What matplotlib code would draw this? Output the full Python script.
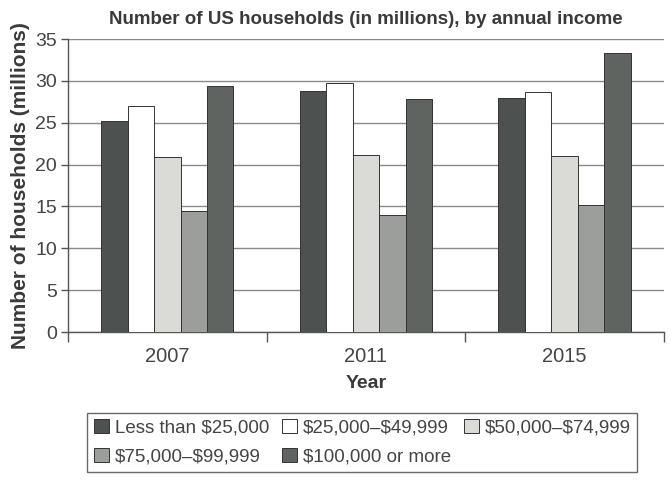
import numpy as np
import matplotlib
matplotlib.use('Agg')
import matplotlib.pyplot as plt

plt.rcParams['font.family'] = ['Liberation Sans', 'DejaVu Sans']
plt.rcParams['text.parse_math'] = False

years = ['2007', '2011', '2015']
series = ['Less than $25,000', '$25,000\u2013$49,999', '$50,000\u2013$74,999',
          '$75,000\u2013$99,999', '$100,000 or more']
less_25k = [25.2, 28.8, 27.9]
from_25k = [27.0, 29.7, 28.7]
from_50k = [20.9, 21.2, 21.0]
from_75k = [14.5, 14.0, 15.2]
over_100k = [29.4, 27.8, 33.3]
colors = ['#4d5250', '#ffffff', '#dadbd7', '#9b9e9a', '#5f6461']

values = [less_25k, from_25k, from_50k, from_75k, over_100k]

fig = plt.figure(figsize=(6.71, 4.90), dpi=100)
ax = fig.add_axes([0.1013, 0.3224, 0.888, 0.598])

x = np.arange(len(years))
w = 0.1333
handles = []
for i, (vals, c) in enumerate(zip(values, colors)):
    b = ax.bar(x + (i - 2) * w, vals, w, color=c, edgecolor='#333333',
               linewidth=0.7, label=series[i], zorder=3)
    handles.append(b)

ax.set_xlim(-0.5, 2.5)
ax.set_ylim(0, 35)
ax.set_yticks(np.arange(0, 36, 5))
ax.yaxis.grid(True, color='#8a8a8a', linewidth=1.0)
ax.set_axisbelow(True)

ax.set_xticks(x)
ax.set_xticklabels(years)
ax.set_xticks([-0.5, 0.5, 1.5, 2.5], minor=True)
ax.tick_params(axis='x', which='major', length=0, pad=11, labelsize=14.5, labelcolor='#444444')
ax.tick_params(axis='x', which='minor', length=7, width=1, color='#555555', direction='out')
ax.tick_params(axis='y', length=5, width=1, color='#555555', labelsize=14,
               labelcolor='#444444', pad=3)

for s in ['top', 'right']:
    ax.spines[s].set_visible(False)
for s in ['left', 'bottom']:
    ax.spines[s].set_color('#555555')
    ax.spines[s].set_linewidth(1.0)

ax.set_title('Number of US households (in millions), by annual income',
             fontsize=13.5, fontweight='bold', color='#3a3a3a', pad=11)
ax.set_xlabel('Year', fontsize=14, fontweight='bold', color='#3a3a3a', labelpad=6)
ax.set_ylabel('Number of households (millions)', fontsize=15, fontweight='bold',
              color='#3a3a3a', labelpad=4)

order = [0, 3, 1, 4, 2]
leg = fig.legend([handles[k] for k in order], [series[k] for k in order],
                 ncol=3, loc='upper center', bbox_to_anchor=(0.54, 0.158),
                 fontsize=13.5, frameon=True, fancybox=False, edgecolor='#444444',
                 handlelength=0.8, handleheight=0.8, handletextpad=0.3,
                 columnspacing=0.7, labelspacing=0.6, borderpad=0.35,
                 borderaxespad=0)
leg.get_frame().set_linewidth(1.0)
for t in leg.get_texts():
    t.set_color('#444444')

fig.savefig('out.png', dpi=100)
